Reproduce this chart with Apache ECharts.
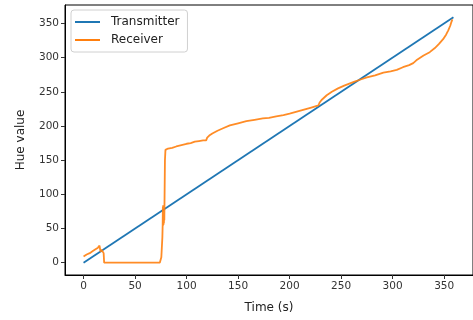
<!DOCTYPE html>
<html>
<head>
<meta charset="utf-8">
<script src="https://cdn.jsdelivr.net/npm/echarts@6/dist/echarts.min.js"></script>
<style>
  html, body { margin: 0; padding: 0; background: #fff; }
  #chart { width: 473px; height: 320px; }
</style>
</head>
<body>
<div id="chart"></div>
<script>
var seriesNames = ['Transmitter', 'Receiver'];

// [time, hue]
var transmitter = [[0, 0], [359, 359]];

var receiver = [
  [0, 9], [3, 12], [6, 14], [9, 17], [12, 20], [14, 22], [15.5, 25], [16.5, 16],
  [17.5, 19], [18.5, 17], [19.5, 14], [20, 0], [74, 0], [75.5, 8], [76.5, 37],
  [76.8, 55], [77, 82], [77.1, 54], [77.3, 84], [77.4, 55], [77.6, 83], [77.7, 56],
  [77.9, 82], [78, 58], [78.2, 80], [78.4, 62], [79, 150], [79.5, 165], [82, 167],
  [86, 168], [90, 170], [95, 172], [100, 174], [104, 175], [108, 177], [112, 178],
  [116, 179], [119, 179], [120, 183], [122, 186], [125, 189], [130, 193], [136, 197],
  [142, 201], [150, 204], [158, 207], [166, 209], [174, 211], [180, 212], [187, 214],
  [194, 216], [200, 218], [207, 221], [214, 224], [221, 227], [228, 230], [229, 234],
  [231, 238], [236, 245], [241, 250], [247, 255], [253, 259], [258, 262], [263, 265],
  [269, 268], [275, 271], [283, 274], [291, 278], [298, 280], [304, 282], [310, 286],
  [316, 289], [320, 292], [323, 296], [330, 303], [336, 308], [341, 314], [345, 320],
  [349, 327], [352, 334], [354, 340], [356, 347], [357, 352], [358, 356]
];

var xTicks = [0, 50, 100, 150, 200, 250, 300, 350];
var yTicks = [0, 50, 100, 150, 200, 250, 300, 350];

var chart = echarts.init(document.getElementById('chart'), null, { renderer: 'canvas' });

var font = 'DejaVu Sans';

var option = {
  animation: false,
  backgroundColor: '#fff',
  textStyle: { fontFamily: font },
  grid: {
    left: 65,
    right: -9,
    top: 5,
    bottom: 45,
    show: true,
    borderColor: '#000',
    borderWidth: 1
  },
  legend: {
    data: seriesNames,
    orient: 'vertical',
    left: 71,
    top: 10,
    icon: 'rect',
    itemWidth: 25,
    itemHeight: 2,
    itemGap: 4,
    padding: [5, 8, 5, 4],
    borderColor: '#d0d0d0',
    borderWidth: 1,
    borderRadius: 3,
    backgroundColor: 'rgba(255,255,255,0.8)',
    textStyle: { fontFamily: font, fontSize: 12, color: '#222', padding: [0, 0, 0, 6], lineHeight: 14 }
  },
  xAxis: {
    type: 'value',
    min: -18,
    max: 378,
    name: 'Time (s)',
    nameLocation: 'middle',
    nameGap: 27,
    nameTextStyle: { fontFamily: font, fontSize: 12, color: '#222' },
    splitLine: { show: false },
    axisLine: { show: true, onZero: false, lineStyle: { color: '#000', width: 1 } },
    axisTick: { show: true, length: 4, customValues: xTicks, lineStyle: { color: '#333' } },
    axisLabel: { customValues: xTicks, fontFamily: font, fontSize: 10.5, color: '#333', margin: 6 }
  },
  yAxis: {
    type: 'value',
    min: -18,
    max: 377,
    name: 'Hue value',
    nameLocation: 'middle',
    nameGap: 38,
    nameTextStyle: { fontFamily: font, fontSize: 12, color: '#222' },
    splitLine: { show: false },
    axisLine: { show: true, onZero: false, lineStyle: { color: '#000', width: 1 } },
    axisTick: { show: true, length: 4, customValues: yTicks, lineStyle: { color: '#333' } },
    axisLabel: { customValues: yTicks, fontFamily: font, fontSize: 10.5, color: '#333', margin: 6 }
  },
  series: [
    {
      name: seriesNames[0],
      type: 'line',
      data: transmitter,
      symbol: 'none',
      lineStyle: { color: '#1f77b4', width: 1.8 },
      itemStyle: { color: '#1f77b4' },
      z: 2
    },
    {
      name: seriesNames[1],
      type: 'line',
      data: receiver,
      symbol: 'none',
      lineStyle: { color: '#ff7f0e', width: 1.8, opacity: 0.9 },
      itemStyle: { color: '#ff7f0e' },
      z: 3
    }
  ]
};

chart.setOption(option);
</script>
</body>
</html>
